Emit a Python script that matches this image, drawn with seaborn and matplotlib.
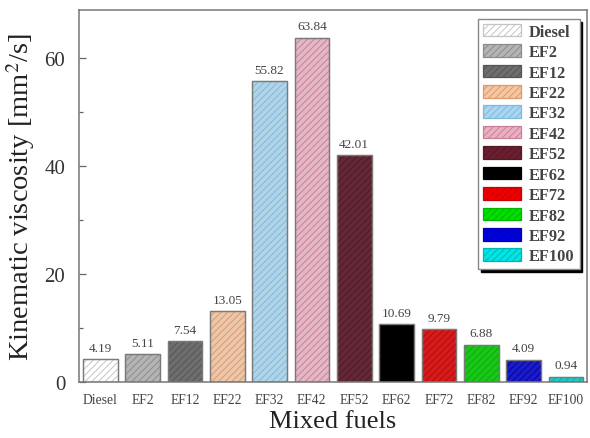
import seaborn as sns
import pandas as pd
import matplotlib.pyplot as plt
from matplotlib.patches import Rectangle, Patch

fuels = ["Diesel", "EF2", "EF12", "EF22", "EF32", "EF42", "EF52",
         "EF62", "EF72", "EF82", "EF92", "EF100"]
viscosity = [4.19, 5.11, 7.54, 13.05, 55.82, 63.84, 42.01,
             10.69, 9.79, 6.88, 4.09, 0.94]
labels = ["4.19", "5.11", "7.54", "13.05", "55.82", "63.84", "42.01",
          "10.69", "9.79", "6.88", "4.09", "0.94"]
fill_colors = ["#ffffff", "#b4b4b4", "#6e6e6e", "#f7c6a0", "#a9d6f0", "#eab0c0",
               "#6a1e30", "#000000", "#ee0000", "#00e000", "#0000dd", "#00e6e6"]
hatch_colors = ["#c4c4c4", "#8c8c8c", "#555555", "#d99a6c", "#7fb8de", "#c98098",
                "#571826", "#000000", "#cc0000", "#00b400", "#0000b8", "#00b4b4"]

data = pd.DataFrame({"fuel": fuels, "visc": viscosity})

sns.set_theme(style="white")
plt.rcParams["font.family"] = ["Liberation Serif", "DejaVu Serif"]
plt.rcParams["mathtext.fontset"] = "stix"
plt.rcParams["hatch.linewidth"] = 0.7

fig = plt.figure(figsize=(5.9, 4.39), dpi=100)
ax = fig.add_axes([0.134, 0.128, 0.861, 0.847])

sns.barplot(data=data, x="fuel", y="visc", hue="fuel", palette=fill_colors,
            order=fuels, hue_order=fuels, width=0.82, legend=False,
            edgecolor="#7a7a7a", linewidth=0.9, ax=ax)

# hatch overlays on top of each bar
bars = list(ax.patches)
for i, (p, hc) in enumerate(zip(bars, hatch_colors)):
    ax.add_patch(Rectangle(p.get_xy(), p.get_width(), p.get_height(),
                           fill=False, hatch="/////", edgecolor=hc, linewidth=0))
    ax.add_patch(Rectangle(p.get_xy(), p.get_width(), p.get_height(),
                           fill=False, edgecolor="#7a7a7a", linewidth=0.9))
    ax.text(p.get_x() + p.get_width() / 2, p.get_height() + 1.0,
            labels[i], ha="center", va="bottom",
            fontsize=9.5, color="#444444")

ax.set_xlim(-0.5, 11.5)
ax.set_ylim(0, 69)
ax.set_yticks([0, 20, 40, 60])
ax.set_yticks([10, 30, 50], minor=True)
ax.tick_params(axis="y", which="major", direction="in", length=5, width=0.9,
               labelsize=15, labelcolor="#333333", color="#666666", left=True, pad=10)
ax.tick_params(axis="y", which="minor", direction="in", length=3, width=0.9,
               color="#666666", left=True)
ax.tick_params(axis="x", bottom=False, labelsize=9.8, labelcolor="#444444", pad=2)
for s in ax.spines.values():
    s.set_color("#777777")
    s.set_linewidth(1.1)

ax.set_xlabel("Mixed fuels", fontsize=19, labelpad=3, color="#222222")
ax.set_ylabel("Kinematic viscosity [mm$^2$/s]", fontsize=20.5, labelpad=5,
              color="#222222")

handles = [Patch(facecolor=fc, edgecolor=hc, hatch="/////", linewidth=0.9)
           for fc, hc in zip(fill_colors, hatch_colors)]
leg = ax.legend(handles, fuels, loc="upper right", bbox_to_anchor=(0.992, 0.985),
                frameon=True, fancybox=False, shadow={"color": "black", "alpha": 1},
                edgecolor="#888888", prop={"weight": "bold", "size": 11.8},
                handlelength=2.3, handleheight=0.8, labelspacing=0.27,
                handletextpad=0.5, borderpad=0.3, borderaxespad=0.2)
for t in leg.get_texts():
    t.set_color("#444444")

fig.savefig("out.png", dpi=100)
